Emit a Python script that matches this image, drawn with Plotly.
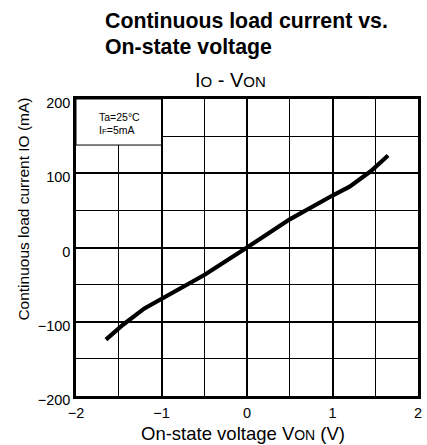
import plotly.graph_objects as go

von = [-1.65, -1.45, -1.2, -1.0, -0.5, 0.0, 0.5, 1.0, 1.2, 1.45, 1.65]
io = [-124, -104, -82, -69, -37, 0, 38, 70, 82, 103, 124]

x_ticks = [-2, -1, 0, 1, 2]
x_ticklabels = ["\u22122", "\u22121", "0", "1", "2"]
y_ticks = [-200, -100, 0, 100, 200]
y_ticklabels = ["\u2212200", "\u2212100", "0", "100", "200"]

FONT = "Liberation Sans, Arial, sans-serif"
W, H = 427, 445
L, R, T, B = 76, 5, 99, 49
PW, PH = W - L - R, H - T - B


def px(xp):
    return (xp - L) / PW


def py(yp):
    return (H - B - yp) / PH


fig = go.Figure()
fig.add_trace(go.Scatter(x=von, y=io, mode="lines",
                         line=dict(color="black", width=4.2), showlegend=False))

fig.add_shape(type="rect", x0=-2, x1=-1, y0=138, y1=200, xref="x", yref="y",
              fillcolor="white", line=dict(color="black", width=1), layer="above")

fig.add_annotation(x=-1.751, y=176, xref="x", yref="y", showarrow=False, xanchor="left",
                   text="Ta=25\u00b0C", font=dict(size=10.5, color="black", family=FONT))
fig.add_annotation(x=-1.751, y=158, xref="x", yref="y", showarrow=False, xanchor="left",
                   text="I<span style='font-size:8px'>F</span>=5mA",
                   font=dict(size=10.5, color="black", family=FONT))

fig.add_annotation(x=px(103), y=py(20.5), xref="paper", yref="paper",
                   showarrow=False, xanchor="left", yanchor="middle",
                   text="<b>Continuous load current vs.</b>",
                   font=dict(size=21.3, color="black", family=FONT))
fig.add_annotation(x=px(103), y=py(46.5), xref="paper", yref="paper",
                   showarrow=False, xanchor="left", yanchor="middle",
                   text="<b>On-state voltage</b>",
                   font=dict(size=21.3, color="black", family=FONT))
fig.add_annotation(x=px(232.5), y=py(80), xref="paper", yref="paper",
                   showarrow=False, xanchor="center", yanchor="middle",
                   text="I<span style='font-size:15px'>O</span> - V<span style='font-size:15px'>ON</span>",
                   font=dict(size=20, color="black", family=FONT))
fig.add_annotation(x=px(22), y=py(209), xref="paper", yref="paper",
                   showarrow=False, xanchor="center", yanchor="middle", textangle=-90,
                   text="Continuous load current IO (mA)",
                   font=dict(size=15.5, color="black", family=FONT))
fig.add_annotation(x=px(245), y=py(433.5), xref="paper", yref="paper",
                   showarrow=False, xanchor="center", yanchor="middle",
                   text="On-state voltage V<span style='font-size:14px'>ON</span> (V)",
                   font=dict(size=18.5, color="black", family=FONT))

axis_common = dict(showline=True, mirror=True, linecolor="black", linewidth=2.5,
                   showgrid=True, gridcolor="black", gridwidth=2, zeroline=False,
                   ticks="", tickfont=dict(size=14.5, color="black", family=FONT))

fig.update_xaxes(range=[-2, 2], tickvals=x_ticks, ticktext=x_ticklabels,
                 ticklabelstandoff=2,
                 minor=dict(dtick=0.5, tick0=0, showgrid=True, gridcolor="black", gridwidth=1),
                 **axis_common)
fig.update_yaxes(range=[-200, 200], tickvals=y_ticks, ticktext=y_ticklabels,
                 ticklabelshift=4,
                 minor=dict(dtick=50, tick0=0, showgrid=True, gridcolor="black", gridwidth=1),
                 **axis_common)

fig.update_layout(width=W, height=H, paper_bgcolor="white", plot_bgcolor="white",
                  margin=dict(l=L, r=R, t=T, b=B), showlegend=False,
                  font=dict(family=FONT, color="black"))

fig.write_html("out.html", config={"displayModeBar": False},
               post_script="document.body.style.margin='0';document.body.style.overflow='hidden';")
